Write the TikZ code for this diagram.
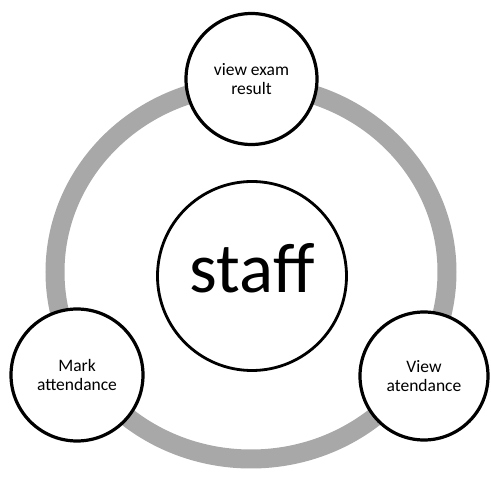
\documentclass[tikz,border=0pt]{standalone}
\usepackage{fontspec}
\setmainfont{Carlito}
\definecolor{ringgray}{RGB}{168,168,168}
\begin{document}
\begin{tikzpicture}[x=1pt,y=1pt,
  bubble/.style={circle,draw=black,line width=3.2pt,fill=white,inner sep=0pt,align=center,
    font=\fontsize{17.5}{19}\selectfont},
  hub/.style={circle,draw=black,line width=2.8pt,fill=white,inner sep=0pt,
    font=\fontsize{71}{75}\selectfont}]
\useasboundingbox (0,0) rectangle (491,477);
\draw[ringgray,line width=19pt] (251,205) ellipse [x radius=196,y radius=187];
\node[hub,minimum size=189pt] (staff) at (252,201) {};
\node[anchor=base,font=\fontsize{71}{75}\selectfont] (stafftext) at ([yshift=-17pt]staff.center) {staff};
\node[bubble,minimum size=131pt] (exam) at (251.5,398) {view exam\\result};
\node[bubble,minimum size=132pt] (mark) at (77,102) {Mark\\attendance};
\node[bubble,minimum size=128pt] (view) at (424,101) {View\\atendance};
\end{tikzpicture}
\end{document}
